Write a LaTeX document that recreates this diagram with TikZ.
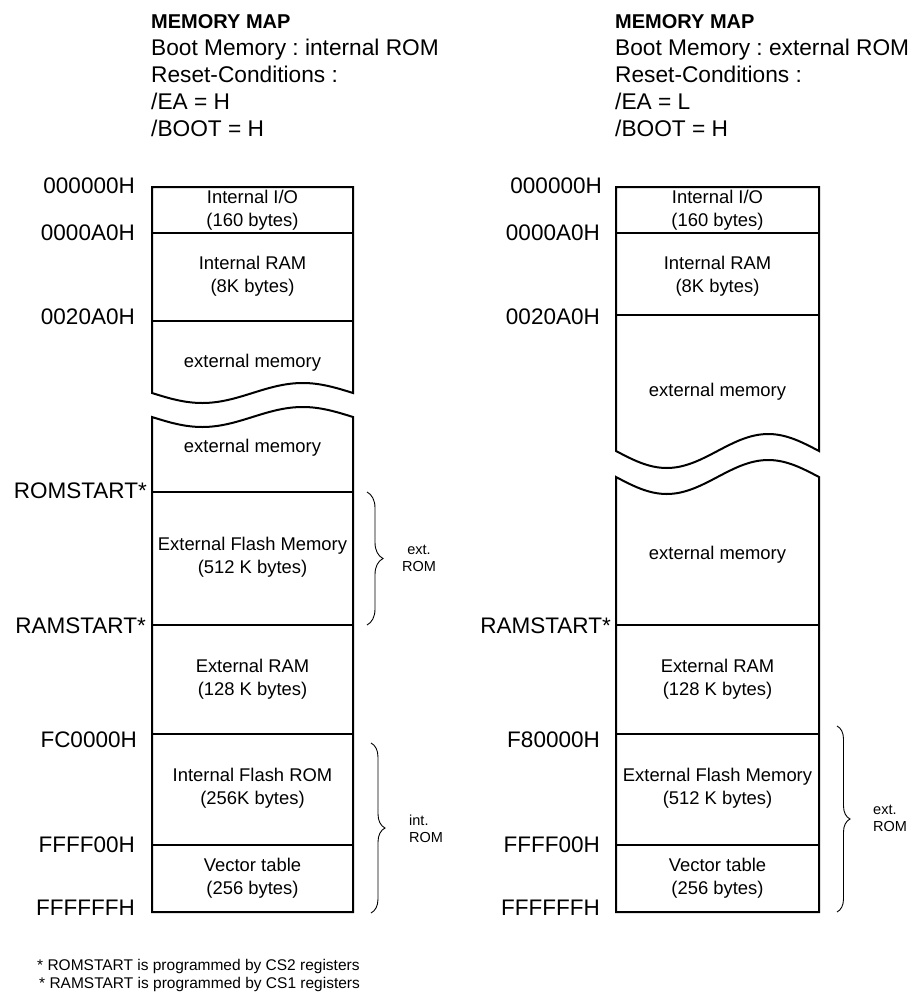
\documentclass[tikz,border=0pt]{standalone}
\usepackage{fontspec}
\setmainfont{Liberation Sans}
\usetikzlibrary{decorations.pathreplacing}
\frenchspacing

\begin{document}
\begin{tikzpicture}[x=1pt, y=-1pt,
  mapline/.style={line width=2pt},
  addr/.style={anchor=east, inner sep=0pt, font=\fontsize{22.5}{26}\selectfont},
  cell/.style={align=center, inner sep=0pt, font=\fontsize{18.4}{23}\selectfont},
  hdr/.style={anchor=base west, inner sep=0pt, font=\fontsize{22.7}{27}\selectfont},
  romlabel/.style={inner sep=0pt, font=\fontsize{14.5}{17}\selectfont},
  rombrace/.style={decorate, decoration={brace, amplitude=#1}, line width=0.9pt},
  note/.style={anchor=base west, inner sep=0pt, font=\fontsize{15.5}{19}\selectfont}
]
  \useasboundingbox (0,0) rectangle (913,996);

  % headers
  \node[hdr, font=\fontsize{20}{27}\selectfont\bfseries] (hdrL0) at (151,28) {MEMORY MAP};
  \node[hdr] (hdrL1) at (151,55) {Boot Memory : internal ROM};
  \node[hdr] (hdrL2) at (151,82) {Reset-Conditions :};
  \node[hdr] (hdrL3) at (151,109) {/EA = H};
  \node[hdr] (hdrL4) at (151,136) {/BOOT = H};

  \node[hdr, font=\fontsize{20}{27}\selectfont\bfseries] (hdrR0) at (615,28) {MEMORY MAP};
  \node[hdr] (hdrR1) at (615,55) {Boot Memory : external ROM};
  \node[hdr] (hdrR2) at (615,82) {Reset-Conditions :};
  \node[hdr] (hdrR3) at (615,109) {/EA = L};
  \node[hdr] (hdrR4) at (615,136) {/BOOT = H};

  % left map (boot from internal ROM)
  \draw[mapline] (152,187) -- (353,187) -- (353,393) sin (302.75,383) cos (252.5,393)
    sin (202.25,403) cos (152,393) -- cycle;
  \draw[mapline] (152,912) -- (152,417) sin (202.25,427) cos (252.5,417)
    sin (302.75,407) cos (353,417) -- (353,912) -- cycle;
  \foreach \y in {233,321,492,625,734,845}
    \draw[mapline] (152,\y) -- (353,\y);

  \node[cell] (ioL) at (252.5,210) {Internal I/O\\(160 bytes)};
  \node[cell] (iramL) at (252.5,276) {Internal RAM\\(8K bytes)};
  \node[cell] (extL1) at (252.5,363) {external memory};
  \node[cell] (extL2) at (252.5,448) {external memory};
  \node[cell] (eflashL) at (252.5,557.5) {External Flash Memory\\(512 K bytes)};
  \node[cell] (xramL) at (252.5,679) {External RAM\\(128 K bytes)};
  \node[cell] (iflashL) at (252.5,788.5) {Internal Flash ROM\\(256K bytes)};
  \node[cell] (vecL) at (252.5,878) {Vector table\\(256 bytes)};

  \node[addr] (aL0) at (135,186) {000000H};
  \node[addr] (aL1) at (135,233) {0000A0H};
  \node[addr] (aL2) at (135,317) {0020A0H};
  \node[addr] (aL3) at (147,491) {ROMSTART*};
  \node[addr] (aL4) at (146,626) {RAMSTART*};
  \node[addr] (aL5) at (137,740) {FC0000H};
  \node[addr] (aL6) at (135,845) {FFFF00H};
  \node[addr] (aL7) at (135,908) {FFFFFFH};

  \draw[rombrace=16pt] (367,492) -- (367,625);
  \node[romlabel, align=center] (extromL) at (419,558) {ext.\\ROM};
  \draw[rombrace=14pt] (371,743) -- (371,913);
  \node[romlabel, align=left, anchor=west] (introm) at (409,829) {int.\\ROM};

  % right map (boot from external ROM)
  \draw[mapline] (616,187) -- (819,187) -- (819,451) sin (768.25,434) cos (717.5,451)
    sin (666.75,468) cos (616,451) -- cycle;
  \draw[mapline] (616,912) -- (616,477) sin (666.75,494) cos (717.5,477)
    sin (768.25,460) cos (819,477) -- (819,912) -- cycle;
  \foreach \y in {233,315,625,734,845}
    \draw[mapline] (616,\y) -- (819,\y);

  \node[cell] (ioR) at (717.5,210) {Internal I/O\\(160 bytes)};
  \node[cell] (iramR) at (717.5,276) {Internal RAM\\(8K bytes)};
  \node[cell] (extR1) at (717.5,392) {external memory};
  \node[cell] (extR2) at (717.5,555) {external memory};
  \node[cell] (xramR) at (717.5,679) {External RAM\\(128 K bytes)};
  \node[cell] (eflashR) at (717.5,788.5) {External Flash Memory\\(512 K bytes)};
  \node[cell] (vecR) at (717.5,878) {Vector table\\(256 bytes)};

  \node[addr] (aR0) at (602,186) {000000H};
  \node[addr] (aR1) at (600,233) {0000A0H};
  \node[addr] (aR2) at (600,317) {0020A0H};
  \node[addr] (aR4) at (611,626) {RAMSTART*};
  \node[addr] (aR5) at (600,740) {F80000H};
  \node[addr] (aR6) at (600,845) {FFFF00H};
  \node[addr] (aR7) at (600,908) {FFFFFFH};

  \draw[rombrace=13pt] (837,726) -- (837,912);
  \node[romlabel, align=left, anchor=west] (extromR) at (873,818) {ext.\\ROM};

  % footnotes
  \node[note] (noteRom) at (37,970.5) {* ROMSTART is programmed by CS2 registers};
  \node[note] (noteRam) at (39,988.5) {* RAMSTART is programmed by CS1 registers};
\end{tikzpicture}
\end{document}
